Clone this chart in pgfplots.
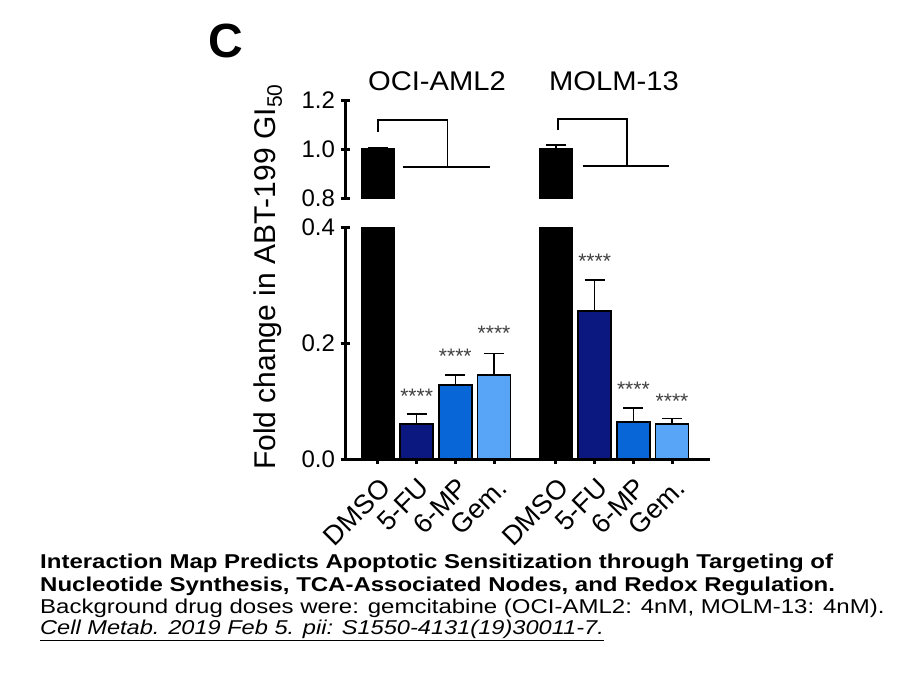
\documentclass[border=0pt]{standalone}
\usepackage{fontspec}
\setmainfont{Liberation Sans}
\usepackage{pgfplots}
\pgfplotsset{compat=1.18}
\definecolor{cfu}{RGB}{10,24,128}
\definecolor{cmp}{RGB}{8,102,214}
\definecolor{cgem}{RGB}{88,165,248}
\newcommand{\fs}[1]{\fontsize{#1bp}{1.2\dimexpr #1bp\relax}\selectfont}
\begin{document}
\begin{tikzpicture}
\path[use as bounding box, fill=white] (0,0) rectangle (907bp,-680bp);
\pgfplotsset{
  brk/.style={
    scale only axis, width=365bp, anchor=south west,
    xmin=-0.85, xmax=8.58,
    tick align=outside, major tick length=9bp,
    tick style={line width=3bp, black},
    /pgf/number format/assume math mode=true,
    yticklabel style={font=\fs{24}, xshift=-2bp},
    clip=true,
  },
  lines/.style={axis line style={-, line width=3bp},
    x axis line style={-}, y axis line style={-}},
  errb/.style={error bars/.cd, y dir=plus, y explicit,
    error bar style={line width=1.6bp, black},
    error mark options={rotate=90, mark size=10bp, line width=1.8bp, black}},
}
% lower axis
\begin{axis}[brk, at={(345bp,-459bp)}, height=232bp,
  ymin=0, ymax=0.4, axis x line=bottom, axis y line=left, lines,
  ytick={0,0.2,0.4}, yticklabels={0.0,0.2,0.4},
  xtick={0,1,2,3,4.6,5.6,6.6,7.6},
  xticklabels={DMSO,5-FU,6-MP,Gem.,DMSO,5-FU,6-MP,Gem.},
  xticklabel style={font=\fs{27}, xshift=1bp, yshift=-8bp, rotate=45, anchor=north east},
]
\addplot[ybar, bar width=33bp, bar shift=0pt, fill=black, draw=black, line width=1.5bp]
  coordinates {(0,1.0) (4.6,1.0)};
\addplot[ybar, bar width=33bp, bar shift=0pt, fill=cfu, draw=black, line width=1.5bp, errb]
  coordinates {(1,0.060) +- (0,0.017) (5.6,0.255) +- (0,0.054)};
\addplot[ybar, bar width=33bp, bar shift=0pt, fill=cmp, draw=black, line width=1.5bp, errb]
  coordinates {(2,0.128) +- (0,0.017) (6.6,0.064) +- (0,0.024)};
\addplot[ybar, bar width=33bp, bar shift=0pt, fill=cgem, draw=black, line width=1.5bp, errb]
  coordinates {(3,0.145) +- (0,0.037) (7.6,0.060) +- (0,0.010)};
\begin{scope}[every node/.style={font=\fs{21}, text=black!75}]
\node at (axis cs:1,0.108) {****};
\node at (axis cs:2,0.177) {****};
\node at (axis cs:3,0.217) {****};
\node at (axis cs:5.6,0.341) {****};
\node at (axis cs:6.6,0.120) {****};
\node at (axis cs:7.6,0.099) {****};
\end{scope}
\end{axis}
% upper axis
\begin{axis}[brk, at={(345bp,-198bp)}, height=98bp,
  ymin=0.8, ymax=1.2, axis x line=none, axis y line=left, lines,
  ytick={0.8,1.0,1.2}, yticklabels={0.8,1.0,1.2},
]
\addplot[ybar, bar width=33bp, bar shift=0pt, fill=black, draw=black, line width=1.5bp, errb]
  coordinates {(0,1.0) +- (0,0.005) (4.6,0.999) +- (0,0.017)};
\addplot[black, line width=1.8bp] coordinates {(0,1.071) (0,1.118) (1.8,1.118) (1.8,0.928)};
\addplot[black, line width=1.8bp] coordinates {(0.65,0.928) (2.9,0.928)};
\addplot[black, line width=1.8bp] coordinates {(4.65,1.078) (4.65,1.122) (6.43,1.122) (6.43,0.930)};
\addplot[black, line width=1.8bp] coordinates {(5.3,0.930) (7.52,0.930)};
\end{axis}
% texts
\node[font=\fs{48}\bfseries] at (226bp,-41bp) {C};
\node[font=\fs{27}] at (437bp,-81bp) {\scalebox{1.08}[1]{OCI-AML2}};
\node[font=\fs{27}] at (614bp,-81bp) {\scalebox{1.08}[1]{MOLM-13}};
\node[font=\fs{30}, rotate=90] at (268bp,-277bp) {Fold change in ABT-199 GI\textsubscript{50}};
\begin{scope}[every node/.style={anchor=west, inner sep=0pt}]
\node[font=\fs{20}\bfseries] at (40bp,-563bp) {\scalebox{1.2}[1]{Interaction Map Predicts Apoptotic Sensitization through Targeting of}};
\node[font=\fs{20}\bfseries] at (40bp,-586bp) {\scalebox{1.2}[1]{Nucleotide Synthesis, TCA-Associated Nodes, and Redox Regulation.}};
\node[font=\fs{20}] at (40bp,-608bp) {\scalebox{1.2}[1]{Background drug doses were: gemcitabine (OCI-AML2: 4nM, MOLM-13: 4nM).}};
\node[font=\fs{20}\itshape] at (40bp,-630bp) {\scalebox{1.18}[1]{\underline{Cell Metab. 2019 Feb 5. pii: S1550-4131(19)30011-7.}}};
\end{scope}
\end{tikzpicture}
\end{document}
